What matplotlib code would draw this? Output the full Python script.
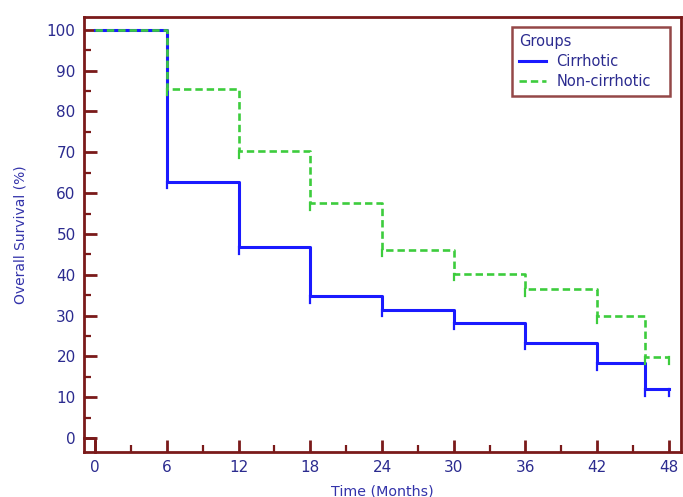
import matplotlib
matplotlib.use("Agg")
import matplotlib.pyplot as plt
from matplotlib.lines import Line2D

plt.rcParams['font.family'] = ['DejaVu Sans']

# Data (step times in months, survival in %)
times = [0, 6, 12, 18, 24, 30, 36, 42, 46, 48]
cirrhotic = [100, 62.8, 46.7, 34.8, 31.4, 28.3, 23.4, 18.3, 12.0, 12.0]
non_cirrhotic = [100, 85.5, 70.3, 57.5, 46.1, 40.2, 36.4, 29.9, 19.8, 19.8]
x_ticks = [0, 6, 12, 18, 24, 30, 36, 42, 48]
y_ticks = [0, 10, 20, 30, 40, 50, 60, 70, 80, 90, 100]

spine_c = '#7a1a1a'
label_c = '#2b2b8f'
blue = '#1a1aff'
green = '#3dcc3d'

fig = plt.figure(figsize=(6.83, 4.97), dpi=100)
ax = fig.add_axes([0.123, 0.0905, 0.874, 0.876])

ax.step(times, cirrhotic, where='post', color=blue, lw=2.2, label='Cirrhotic', zorder=3)
ax.step(times, non_cirrhotic, where='post', color=green, lw=1.9, ls=(0, (2.8, 1.5)),
        label='Non-cirrhotic', zorder=4)

# censor marks (small ticks below each step)
for series, col, z in [(cirrhotic, blue, 3), (non_cirrhotic, green, 4)]:
    for t, v in zip(times[1:], series[1:]):
        ax.plot([t, t], [v, v - 1.6], color=col, lw=1.6, zorder=z)

ax.set_xlim(-0.92, 49.0)
ax.set_ylim(-3.4, 103.2)

ax.set_xticks(x_ticks)
ax.set_xticks(range(3, 48, 6), minor=True)
ax.set_yticks(y_ticks)
ax.set_yticks(range(5, 100, 10), minor=True)

ax.tick_params(axis='both', which='major', direction='in', length=9, width=2,
               color=spine_c, labelcolor=label_c, labelsize=11, pad=6)
ax.tick_params(axis='both', which='minor', direction='in', length=5, width=1.6,
               color=spine_c)

for s in ax.spines.values():
    s.set_color(spine_c)
    s.set_linewidth(2)

# corner mark at origin
ax.add_line(Line2D([-0.92, 0, 0], [0, 0, -3.4], color=spine_c, lw=2, clip_on=False, zorder=5))

ax.set_xlabel('Time (Months)', color='#3333aa', fontsize=10.3)
ax.set_ylabel('Overall Survival (%)', color='#3333aa', fontsize=10)
ax.xaxis.set_label_coords(0.5, -0.074)
ax.yaxis.set_label_coords(-0.094, 0.5)

leg = ax.legend(title='Groups', loc='upper left', bbox_to_anchor=(0.717, 0.5, 0.265, 0.477),
                mode='expand', fontsize=10.5, title_fontsize=10.5, frameon=True,
                fancybox=False, handlelength=1.85, handletextpad=0.7, borderpad=0.5,
                labelspacing=0.35, borderaxespad=0)
leg.get_frame().set_edgecolor(spine_c)
leg.get_frame().set_linewidth(1.8)
for t in leg.get_texts():
    t.set_color(label_c)
leg.get_title().set_color(label_c)
leg._legend_box.align = 'left'

fig.savefig('out.png', dpi=100)
